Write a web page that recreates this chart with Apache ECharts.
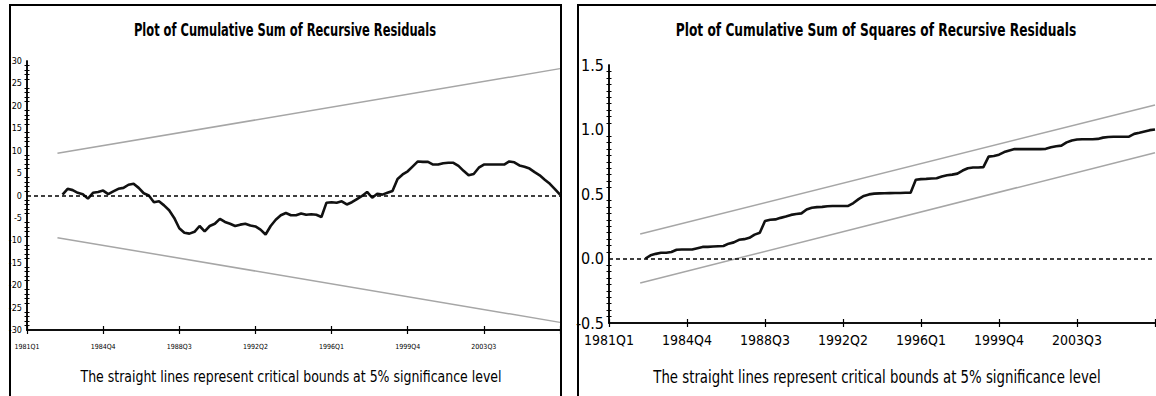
<!DOCTYPE html>
<html>
<head>
<meta charset="utf-8">
<title>CUSUM / CUSUMSQ</title>
<script src="https://cdn.jsdelivr.net/npm/echarts@6/dist/echarts.min.js"></script>
<style>
  html, body { margin: 0; padding: 0; background: #fff; }
  #chart { width: 1156px; height: 396px; }
</style>
</head>
<body>
<div id="chart"></div>
<script>
// sample 1981Q1 .. 2007Q2, recursive residuals start at 1982Q4
const firstYear = 1981
const quarterCount = 106
const cusumStart = 7
const boundStart = 6
const tickStep = 15

// cumulative sum of recursive residuals, 1982Q4 onwards
const cusum = [
  0.2, 1.5, 1.2, 0.6, 0.3, -0.7, 0.6, 0.8, 1.1, 0.3,
  0.9, 1.5, 1.7, 2.4, 2.6, 1.7, 0.5, 0.0, -1.5, -1.3,
  -2.2, -3.3, -5.0, -7.3, -8.3, -8.5, -8.1, -6.8, -8.0, -6.8,
  -6.3, -5.2, -5.9, -6.3, -6.8, -6.5, -6.3, -6.7, -6.9, -7.6,
  -8.7, -6.8, -5.4, -4.4, -3.9, -4.4, -4.4, -4.0, -4.3, -4.2,
  -4.3, -4.8, -1.6, -1.5, -1.6, -1.3, -2.0, -1.5, -0.8, -0.1,
  0.8, -0.5, 0.4, 0.2, 0.6, 1.0, 3.7, 4.7, 5.4, 6.5,
  7.6, 7.5, 7.5, 6.9, 6.9, 7.2, 7.3, 7.3, 6.6, 5.5,
  4.5, 4.8, 6.2, 6.9, 6.9, 6.9, 6.9, 6.9, 7.6, 7.4,
  6.7, 6.4, 6.0, 5.2, 4.5, 3.5, 2.6, 1.4, 0.2
]
// 5% bounds are straight lines: value at first and last quarter
const cusumUpper = [9.4, 28.3]
const cusumLower = [-9.4, -28.3]

// cumulative sum of squares of recursive residuals, 1982Q4 onwards
const cusumsq = [
  0.0, 0.025, 0.036, 0.044, 0.044, 0.05, 0.068, 0.07, 0.07, 0.07,
  0.08, 0.09, 0.09, 0.093, 0.095, 0.097, 0.115, 0.125, 0.145, 0.15,
  0.16, 0.185, 0.2, 0.29, 0.3, 0.303, 0.315, 0.325, 0.338, 0.345,
  0.35, 0.38, 0.393, 0.398, 0.4, 0.405, 0.407, 0.407, 0.407, 0.408,
  0.43, 0.46, 0.485, 0.497, 0.503, 0.505, 0.506, 0.507, 0.508, 0.508,
  0.51, 0.51, 0.61, 0.615, 0.617, 0.62, 0.622, 0.636, 0.645, 0.65,
  0.658, 0.682, 0.7, 0.706, 0.706, 0.708, 0.79, 0.795, 0.805, 0.825,
  0.838, 0.848, 0.848, 0.848, 0.848, 0.848, 0.848, 0.85, 0.862, 0.87,
  0.875, 0.9, 0.915, 0.922, 0.925, 0.925, 0.925, 0.927, 0.937, 0.942,
  0.944, 0.944, 0.944, 0.945, 0.966, 0.975, 0.985, 0.995, 1.0
]
const cusumsqUpper = [0.19, 1.19]
const cusumsqLower = [-0.19, 0.82]

const titleLeft = 'Plot of Cumulative Sum of Recursive Residuals'
const titleRight = 'Plot of Cumulative Sum of Squares of Recursive Residuals'
const footNote = 'The straight lines represent critical bounds at 5% significance level'

const quarters = []
for (let i = 0; i < quarterCount; i++) {
  quarters.push((firstYear + Math.floor(i / 4)) + 'Q' + (i % 4 + 1))
}

function pad(values, start) {
  const out = new Array(quarterCount).fill(null)
  values.forEach((v, i) => { out[start + i] = v })
  return out
}
function bound(ends) {
  const out = new Array(quarterCount).fill(null)
  out[boundStart] = ends[0]
  out[quarterCount - 1] = ends[1]
  return out
}

const narrow = "'DejaVu Sans Condensed', 'Liberation Sans Narrow', sans-serif"

function xPair(gridIndex, font, margin) {
  const base = {
    type: 'category', gridIndex, data: quarters, boundaryGap: false, position: 'bottom',
    axisLine: { onZero: false, lineStyle: { color: '#000', width: 1.5 } },
    splitLine: { show: false }
  }
  return [
    Object.assign({}, base, {
      axisTick: { interval: (i) => i % tickStep === 0, length: 4, lineStyle: { color: '#000', width: 1.2 } },
      axisLabel: { interval: (i) => i % tickStep === 0 && i < quarterCount - 1, color: '#000', margin, fontFamily: narrow, fontSize: font }
    }),
    Object.assign({}, base, {
      axisTick: { inside: true, interval: (i) => i % tickStep === 0, length: 4, lineStyle: { color: '#000', width: 1.2 } },
      axisLabel: { show: false }
    })
  ]
}

function yPair(gridIndex, min, max, interval, minor, font, fmt) {
  const base = {
    type: 'value', gridIndex, min, max, interval, position: 'left',
    axisLine: { show: true, onZero: false, lineStyle: { color: '#000', width: 1.5 } },
    splitLine: { show: false },
    minorTick: { show: true, splitNumber: minor, length: 2.5, lineStyle: { color: '#000', width: 1 } }
  }
  return [
    Object.assign({}, base, {
      axisTick: { length: 4, lineStyle: { color: '#000', width: 1.2 } },
      axisLabel: { color: '#000', margin: 5, fontFamily: narrow, fontSize: font, formatter: fmt }
    }),
    Object.assign({}, base, {
      axisTick: { inside: true, length: 4, lineStyle: { color: '#000', width: 1.2 } },
      axisLabel: { show: false }
    })
  ]
}

const zeroLine = {
  silent: true, symbol: 'none', label: { show: false },
  lineStyle: { type: [4, 3], color: '#000', width: 1.5 },
  data: [{ yAxis: 0 }]
}

function line(values, xi, yi, color, width, extra) {
  return Object.assign({
    type: 'line', data: values, xAxisIndex: xi, yAxisIndex: yi,
    showSymbol: false, symbol: 'none', connectNulls: true,
    lineStyle: { color, width }
  }, extra || {})
}

function text(x, y, str, size, weight, squeeze) {
  return {
    type: 'text', x, y, scaleX: squeeze, silent: true,
    style: { text: str, align: 'center', verticalAlign: 'middle', fill: '#000',
      fontFamily: narrow, fontSize: size, fontWeight: weight }
  }
}

const chart = echarts.init(document.getElementById('chart'), null, { renderer: 'svg' })
chart.setOption({
  backgroundColor: '#fff',
  animation: false,
  grid: [
    { left: 27, top: 61, width: 533, height: 269 },
    { left: 609, top: 65, width: 546, height: 258 }
  ],
  xAxis: [].concat(xPair(0, 7, 13), xPair(1, 14, 10)),
  yAxis: [].concat(
    yPair(0, -30, 30, 5, 5, 9, (v) => String(v)),
    yPair(1, -0.5, 1.5, 0.5, 10, 16, (v) => v.toFixed(1))
  ),
  series: [
    line(bound(cusumUpper), 0, 0, '#a6a6a6', 1.5),
    line(bound(cusumLower), 0, 0, '#a6a6a6', 1.5),
    line(pad(cusum, cusumStart), 0, 0, '#111', 2.6, { markLine: zeroLine }),
    line(bound(cusumsqUpper), 2, 2, '#a6a6a6', 1.5),
    line(bound(cusumsqLower), 2, 2, '#a6a6a6', 1.5),
    line(pad(cusumsq, cusumStart), 2, 2, '#111', 2.6, { markLine: zeroLine })
  ],
  graphic: [
    { type: 'rect', shape: { x: 10, y: 5, width: 551, height: 420 }, style: { fill: 'none', stroke: '#000', lineWidth: 2 }, silent: true },
    { type: 'rect', shape: { x: 578, y: 5, width: 620, height: 420 }, style: { fill: 'none', stroke: '#000', lineWidth: 2 }, silent: true },
    text(285, 30, titleLeft, 17, 'bold', 0.75),
    text(291, 377, footNote, 16, 'normal', 0.87),
    text(876, 30, titleRight, 17, 'bold', 0.8),
    text(877, 377, footNote, 17, 'normal', 0.87)
  ]
})
</script>
</body>
</html>
